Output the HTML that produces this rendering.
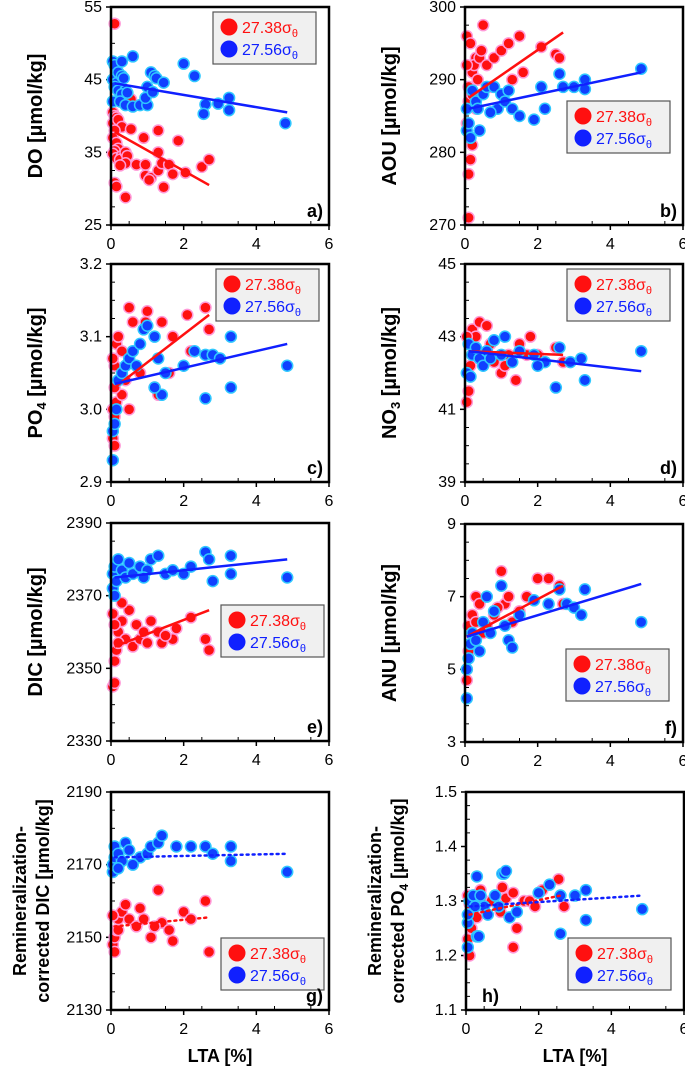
<!DOCTYPE html>
<html><head><meta charset="utf-8">
<style>
body{margin:0;background:#fff;width:685px;height:1070px;overflow:hidden;font-family:"Liberation Sans",sans-serif}
svg{display:block}
</style></head>
<body>
<svg id="chart" width="685" height="1070" xmlns="http://www.w3.org/2000/svg"></svg>
<script>
// Panel data (x = LTA %, y = parameter)
const aRedX=[0.1,0.05,0.1,0.15,0.05,0.2,0.3,0.55,0.1,0.05,0.15,0.2,0.1,0.05,0.15,0.3,0.25,0.4,0.45,0.4,0.25,0.7,0.95,0.9,1.3,1.3,0.95,1.1,1.05,1.3,1.4,1.6,1.7,1.85,2.05,2.5,2.7,1.45,0.1,0.15,0.4,0.55];
const aRedY=[52.7,40.5,40,39.8,39,39.5,38.5,38.2,38,37,36.3,35.5,35.2,34.8,34.2,34.5,34,35,34.5,33.5,33.2,33.3,33.3,37,38,35,31.8,31.5,31.2,32.5,33.5,33.3,32,36.6,32.2,33,34,30.2,30.8,30.3,28.8,42.3];
const aBlueX=[0.05,0.1,0.3,0.6,0.05,0.15,0.2,0.3,0.35,0.1,0.2,0.4,0.3,0.45,0.05,0.25,0.4,0.6,0.8,1,0.95,1,1.1,1.2,1.25,1.15,1.45,2,2.3,2.6,2.55,2.95,3.25,3.25,4.8];
const aBlueY=[47.5,47,47.5,48.2,45,44.5,46,45.5,45.2,44,43.5,43.5,43,43.2,42,42,41.5,41.3,41.5,41.5,42.5,44,46,45.5,45.2,43.3,44.6,47.2,45.5,41.6,40.3,41.7,42.5,40.8,39];
const aFit=[[0.1,37.8,2.7,30.5],[0.1,44.5,4.85,40.5]];

const bRedX=[0.1,0.1,0.15,0.2,0.05,0.1,0.2,0.3,0.05,0.15,0.25,0.35,0.4,0.5,0.1,0.2,0.3,0.6,0.8,1.0,1.2,1.3,1.5,1.6,2.1,2.5,2.6,0.45,0.7,0.05];
const bRedY=[271,277,279,281,284,289,291,293,296,295,292,290,293,297.5,287,288,286,292,293,294,295,290,296,291,294.5,293.5,293,294,289,292];
const bBlueX=[0.05,0.1,0.15,0.05,0.3,0.4,0.5,0.6,0.8,1.0,0.9,1.1,1.3,1.5,1.9,2.2,2.6,2.7,3.0,3.3,3.3,4.85,0.2,0.35,1.2,2.1,0.7];
const bBlueY=[283,284,282,286,287,283,288,289,289,288,286,287,286,285,284.5,286,290.8,289,289,290,288.7,291.5,288.5,286,288.5,289,285.5];
const bFit=[[0.1,287.5,2.7,296.5],[0.1,286,4.85,291]];

const cRedX=[0.1,0.05,0.15,0.2,0.3,0.5,0.6,0.95,1.0,1.4,1.7,2.1,2.2,2.6,2.7,0.05,0.1,0.15,0.05,0.1,0.4,0.8,1.2,1.6,1.3,0.3,0.5,0.1];
const cRedY=[3.06,3.07,3.09,3.1,3.08,3.14,3.12,3.12,3.135,3.12,3.1,3.13,3.08,3.14,3.11,3.0,2.99,3.01,2.96,2.95,3.04,3.05,3.03,3.05,3.02,3.02,3.0,3.03];
const cBlueX=[0.05,0.05,0.1,0.15,0.2,0.3,0.4,0.5,0.6,0.8,0.9,1.0,1.2,1.3,1.4,1.5,2.0,2.3,2.6,2.6,2.8,3.0,3.3,3.3,4.85,1.2,0.7];
const cBlueY=[2.93,2.97,2.98,3.0,3.04,3.05,3.06,3.07,3.08,3.09,3.11,3.115,3.1,3.07,3.02,3.05,3.06,3.08,3.075,3.015,3.075,3.07,3.1,3.03,3.06,3.03,3.06];
const cFit=[[0.1,3.03,2.7,3.13],[0.1,3.035,4.85,3.09]];

const dRedX=[0.05,0.1,0.2,0.3,0.4,0.6,0.5,0.8,1.0,1.2,1.4,1.5,1.8,2.0,2.5,2.7,0.1,0.15,0.3,0.05,0.7,1.1,1.7];
const dRedY=[41.2,41.5,43.2,43,43.4,43.3,42.5,42.3,42,42.5,41.8,42.8,43,42.5,42.7,42.3,42.8,42.2,42.6,43,42.8,42.2,42.5];
const dBlueX=[0.05,0.1,0.2,0.3,0.4,0.6,0.8,1.0,1.1,1.3,1.5,1.9,2.2,2.5,2.6,2.9,3.2,3.3,4.85,0.15,0.5,0.7,2.0];
const dBlueY=[42,42.8,42.5,42.7,42.4,42.6,42.9,42.5,43,42.3,42.6,42.5,42.3,41.6,42.7,42.3,42.4,41.8,42.6,41.9,42.2,42.4,42.2];
const dFit=[[0.1,42.6,2.7,42.5],[0.1,42.6,4.85,42.05]];

const eRedX=[0.05,0.1,0.1,0.15,0.2,0.3,0.5,0.4,0.6,0.8,1.0,1.1,1.3,1.4,1.7,1.8,2.2,2.6,2.7,0.05,0.1,0.2,0.3,0.7,0.9,1.5];
const eRedY=[2345,2346,2352,2355,2360,2363,2366,2358,2356,2358,2357,2363,2360,2357,2358,2361,2364,2358,2355,2365,2362,2357,2368,2362,2360,2359];
const eBlueX=[0.05,0.05,0.1,0.15,0.2,0.3,0.4,0.6,0.8,1.0,1.1,1.3,1.5,2.0,2.2,2.6,2.7,2.8,3.3,3.3,4.85,0.1,0.5,0.9,1.7];
const eBlueY=[2372,2376,2378,2374,2380,2377,2375,2376,2378,2377,2380,2381,2376,2376,2378,2382,2380,2374,2381,2376,2375,2370,2379,2375,2377];
const eFit=[[0.1,2356,2.7,2366],[0.1,2375,4.85,2380]];

const fRedX=[0.05,0.1,0.15,0.2,0.3,0.4,0.6,0.8,1.0,1.1,1.3,1.5,1.7,2.0,2.3,2.6,2.7,0.05,0.1,0.5,0.9,1.2,0.3];
const fRedY=[5.0,5.5,6.0,6.5,7.0,6.8,6.2,6.5,7.7,6.8,6.3,6.6,7.0,7.5,7.5,7.3,6.8,4.7,6.2,6.0,6.7,7.0,6.3];
const fBlueX=[0.05,0.05,0.1,0.15,0.2,0.3,0.5,0.6,0.8,1.0,1.1,1.2,1.3,1.5,1.9,2.3,2.6,2.8,3.0,3.3,3.2,4.85,0.4,0.7];
const fBlueY=[4.2,5.0,5.3,5.7,6.0,5.8,6.3,7.0,6.6,7.3,6.2,5.8,5.6,6.5,6.9,6.8,7.2,6.8,6.7,7.2,6.5,6.3,5.5,6.0];
const fFit=[[0.05,5.9,2.7,7.3],[0.05,5.9,4.85,7.35]];

const gRedX=[0.05,0.1,0.15,0.2,0.3,0.4,0.1,0.5,0.7,0.9,1.1,1.3,1.4,1.6,1.7,2.0,2.2,2.6,2.7,0.05,0.2,0.8,1.2];
const gRedY=[2148,2150,2152,2155,2157,2159,2146,2155,2153,2155,2150,2163,2154,2152,2149,2157,2155,2160,2146,2156,2152,2158,2153];
const gBlueX=[0.05,0.05,0.1,0.1,0.2,0.3,0.4,0.5,0.8,1.0,1.1,1.3,1.4,1.8,2.2,2.6,2.8,3.3,3.3,4.85,0.2,0.6];
const gBlueY=[2168,2170,2172,2175,2173,2171,2176,2174,2172,2173,2175,2176,2178,2175,2175,2175,2173,2175,2171,2168,2169,2170];
const gFit=[[0.1,2153,2.7,2155.5],[0.1,2172,4.85,2173]];

const hRedX=[0.05,0.1,0.05,0.15,0.2,0.3,0.4,0.5,0.7,0.95,1.0,1.1,1.3,1.4,1.3,1.6,1.75,1.9,2.1,2.55,2.7,0.1,0.2];
const hRedY=[1.31,1.2,1.23,1.25,1.28,1.27,1.32,1.3,1.3,1.28,1.325,1.305,1.315,1.25,1.215,1.3,1.3,1.29,1.32,1.34,1.29,1.295,1.31];
const hBlueX=[0.05,0.05,0.05,0.1,0.2,0.3,0.3,0.35,0.4,0.5,0.6,0.8,1.0,1.05,1.1,1.2,1.4,2.0,2.3,2.6,2.6,3.0,3.3,3.3,4.85,0.25,0.9];
const hBlueY=[1.215,1.26,1.275,1.3,1.31,1.345,1.235,1.235,1.31,1.29,1.275,1.31,1.35,1.35,1.355,1.27,1.28,1.315,1.33,1.24,1.31,1.31,1.32,1.265,1.285,1.29,1.29];
const hFit=[[0.1,1.275,2.6,1.31],[0.1,1.29,4.85,1.31]];

const xTicks=[0,2,4,6];
const aTicks=[25,35,45,55], bTicks=[270,280,290,300], cTicks=[2.9,3.0,3.1,3.2], dTicks=[39,41,43,45];
const eTicks=[2330,2350,2370,2390], fTicks=[3,5,7,9], gTicks=[2130,2150,2170,2190], hTicks=[1.1,1.2,1.3,1.4,1.5];
const cTickLabels=["2.9","3.0","3.1","3.2"], hTickLabels=["1.1","1.2","1.3","1.4","1.5"];

const NS="http://www.w3.org/2000/svg";
const svg=document.getElementById('chart');
function mk(tag,attrs,parent){const e=document.createElementNS(NS,tag);for(const k in attrs)e.setAttribute(k,attrs[k]);(parent||svg).appendChild(e);return e;}

const W=218,H=218;
const panels=[
 {id:'a',L:111,T:7,ticks:aTicks,rx:aRedX,ry:aRedY,bx:aBlueX,by:aBlueY,fit:aFit,dot:false,leg:[102,5],lab:'right',title:['DO [µmol/kg]']},
 {id:'b',L:465,T:7,ticks:bTicks,rx:bRedX,ry:bRedY,bx:bBlueX,by:bBlueY,fit:bFit,dot:false,leg:[102,94],lab:'right',title:['AOU [µmol/kg]']},
 {id:'c',L:111,T:264,ticks:cTicks,tl:cTickLabels,rx:cRedX,ry:cRedY,bx:cBlueX,by:cBlueY,fit:cFit,dot:false,leg:[105,5],lab:'right',title:['PO4']},
 {id:'d',L:465,T:264,ticks:dTicks,rx:dRedX,ry:dRedY,bx:dBlueX,by:dBlueY,fit:dFit,dot:false,leg:[102,5],lab:'right',title:['NO3']},
 {id:'e',L:111,T:523,ticks:eTicks,rx:eRedX,ry:eRedY,bx:eBlueX,by:eBlueY,fit:eFit,dot:false,leg:[110,82],lab:'right',title:['DIC [µmol/kg]']},
 {id:'f',L:465,T:524,ticks:fTicks,rx:fRedX,ry:fRedY,bx:fBlueX,by:fBlueY,fit:fFit,dot:false,leg:[101,125],lab:'right',title:['ANU [µmol/kg]']},
 {id:'g',L:111,T:792,ticks:gTicks,rx:gRedX,ry:gRedY,bx:gBlueX,by:gBlueY,fit:gFit,dot:true,leg:[110,146],lab:'right',title:['Remineralization-','corrected DIC [µmol/kg]']},
 {id:'h',L:466,T:792,ticks:hTicks,tl:hTickLabels,rx:hRedX,ry:hRedY,bx:hBlueX,by:hBlueY,fit:hFit,dot:true,leg:[102,146],lab:'left',title:['Remineralization-','corrected PO4']}
];

panels.forEach(p=>{
 const g=mk('g',{});
 
 
 const y0=p.ticks[0],y1=p.ticks[p.ticks.length-1];
 const sx=v=>p.L+v/6*W, sy=v=>p.T+H-(v-y0)/(y1-y0)*H;
 const nT=p.ticks.length;
 for(let i=0;i<nT-1;i++){for(let k=1;k<4;k++){const yy=p.T+H-(i+k/4)/(nT-1)*H;mk('line',{x1:p.L,x2:p.L+4,y1:yy,y2:yy,stroke:'#000','stroke-width':1},g);}}
 for(let i=0;i<6;i++){const xx=sx(i+0.5);mk('line',{x1:xx,x2:xx,y1:p.T+H,y2:p.T+H-4,stroke:'#000','stroke-width':1},g);}
 p.ticks.forEach((t,i)=>{
  const yy=sy(t);
  mk('line',{x1:p.L-5,x2:p.L,y1:yy,y2:yy,stroke:'#000','stroke-width':1.5},g);
  const tx=mk('text',{x:p.L-9,y:yy+5,'text-anchor':'end','font-size':16,fill:'#000'},g);
  tx.textContent=p.tl?p.tl[i]:String(t);
  
  
 });
 xTicks.forEach(t=>{
  const xx=sx(t);
  mk('line',{x1:xx,x2:xx,y1:p.T+H,y2:p.T+H+5,stroke:'#000','stroke-width':1.5},g);
  const tx=mk('text',{x:xx,y:p.T+H+24,'text-anchor':'middle','font-size':16,fill:'#000'},g);
  tx.textContent=String(t);
  
  
 });
 const drawPts=(xs,ys,fill,stroke,name)=>{xs.forEach((x,i)=>{const c=mk('circle',{cx:sx(x),cy:sy(ys[i]),r:5.5,fill:fill,stroke:stroke,'stroke-width':1.5},g);
  
  });};
 drawPts(p.rx,p.ry,'#ff1010','#ff9ad8','point-27-38');
 drawPts(p.bx,p.by,'#1040ff','#30c8ff','point-27-56');
 [['#ff1010','fit-line-27-38'],['#1020ff','fit-line-27-56']].forEach((s,i)=>{
  const f=p.fit[i];
  const ln=mk('line',{x1:sx(f[0]),y1:sy(f[1]),x2:sx(f[2]),y2:sy(f[3]),stroke:s[0],'stroke-width':2.5,'stroke-dasharray':p.dot?'2,4':'none','stroke-linecap':p.dot?'round':'butt'},g);
  
  
 });
 const fr=mk('rect',{x:p.L,y:p.T,width:W,height:H,fill:'none',stroke:'#000','stroke-width':2.5},g);
 
 
 const lx=p.L+p.leg[0],ly=p.T+p.leg[1];
 const lg=mk('g',{},g);
 
 
 mk('rect',{x:lx,y:ly,width:103,height:52,fill:'#f0f0f0',stroke:'#555','stroke-width':1.2},lg);
 [['#ff1010','#ff1010','27.38'],['#1020ff','#1020ff','27.56']].forEach((s,i)=>{
  const cy=ly+15+i*22;
  mk('circle',{cx:lx+16,cy:cy,r:8.5,fill:s[0]},lg);
  const t=mk('text',{x:lx+29,y:cy+6,'font-size':16,fill:s[1]},lg);
  t.innerHTML=s[2]+'σ<tspan font-size="11" dy="4">θ</tspan>';
  
  
 });
 const pl=mk('text',{x:p.lab==='right'?p.L+W-6:p.L+16,y:p.T+H-8,'text-anchor':p.lab==='right'?'end':'start','font-size':18,'font-weight':'bold',fill:'#000'},g);
 pl.textContent=p.id+')';
 
 
 const cx=p.L-(p.title.length===2?85:69),cy=p.T+H/2;
 const yt=mk('text',{transform:`translate(${cx},${cy}) rotate(-90)`,'text-anchor':'middle','font-size':p.title.length===2?18:20,'font-weight':'bold',fill:'#000'},g);
 
 
 if(p.id==='c'){yt.innerHTML='PO<tspan font-size="13" dy="4">4</tspan><tspan dy="-4"> [µmol/kg]</tspan>';}
 else if(p.id==='d'){yt.innerHTML='NO<tspan font-size="13" dy="4">3</tspan><tspan dy="-4"> [µmol/kg]</tspan>';}
 else if(p.id==='h'){yt.innerHTML='<tspan x="0" dy="0">Remineralization-</tspan><tspan x="0" dy="23">corrected PO</tspan><tspan font-size="12" dy="4">4</tspan><tspan dy="-4"> [µmol/kg]</tspan>';}
 else if(p.title.length===2){yt.innerHTML='<tspan x="0" dy="0">'+p.title[0]+'</tspan><tspan x="0" dy="23">'+p.title[1]+'</tspan>';}
 else yt.textContent=p.title[0];
 if(p.id==='g'||p.id==='h'){
  const xt=mk('text',{x:p.L+W/2,y:1062,'text-anchor':'middle','font-size':18,'font-weight':'bold',fill:'#000'},g);
  xt.textContent='LTA [%]';
  
  
 }
});
</script>
</body></html>
